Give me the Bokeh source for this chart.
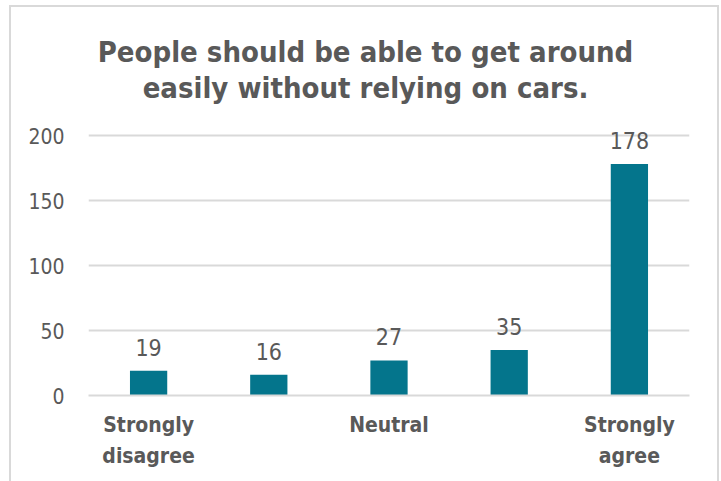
from bokeh.plotting import figure
from bokeh.models import ColumnDataSource, LabelSet, Label, Range1d, FixedTicker
from bokeh.core.properties import value
from bokeh.embed import file_html
from bokeh.resources import INLINE

# Data
categories = ["Strongly disagree", "Disagree", "Neutral", "Agree", "Strongly agree"]
counts = [19, 16, 27, 35, 178]
tick_labels = ["Strongly\ndisagree", "", "Neutral", "", "Strongly\nagree"]
y_ticks = [0, 50, 100, 150, 200]
title_lines = ["People should be able to get around", "easily without relying on cars."]

FONT = "DejaVu Sans Condensed"
TEXT = "#595959"
BAR = "#04758C"
GRID = "#D9D9D9"

xs = list(range(len(categories)))

W, H = 706, 474
PX_PER_UNIT = 1.3
y_top = 200 + 128 / PX_PER_UNIT  # frame extends to top so title fits inside
p = figure(width=W, height=H, x_range=Range1d(-0.5, len(categories) - 0.5), y_range=Range1d(0, y_top),
           output_backend="svg", toolbar_location=None,
           min_border_left=77, min_border_right=28, min_border_top=0, min_border_bottom=86)
p.margin = (7, 0, 0, 11)
p.styles = {"outline": "2px solid #D9D9D9"}
p.outline_line_color = None
p.background_fill_color = "white"
p.border_fill_color = "white"

src = ColumnDataSource(dict(x=xs, cat=categories, val=counts, lab=[str(v) for v in counts]))
p.vbar(x="x", top="val", width=0.31, source=src, fill_color=BAR, line_color=None)

labels = LabelSet(x="x", y="val", text="lab", source=src, text_align="center",
                  text_baseline="alphabetic", y_offset=15, text_font=value(FONT),
                  text_font_size="23px", text_color=TEXT)
p.add_layout(labels)

# axes
p.yaxis.ticker = FixedTicker(ticks=y_ticks)
p.yaxis.axis_line_color = None
p.yaxis.major_tick_line_color = None
p.yaxis.minor_tick_line_color = None
p.yaxis.major_label_standoff = 18
p.yaxis.major_label_text_font = FONT
p.yaxis.major_label_text_font_size = "21px"
p.yaxis.major_label_text_color = TEXT

p.xaxis.ticker = FixedTicker(ticks=xs)
p.xaxis.axis_line_color = GRID
p.xaxis.axis_line_width = 2
p.xaxis.major_tick_line_color = None
p.xaxis.minor_tick_line_color = None
p.xaxis.major_label_overrides = {i: t for i, t in zip(xs, tick_labels)}
p.xaxis.major_label_standoff = 11
p.xaxis.major_label_text_font = FONT
p.xaxis.major_label_text_font_style = "bold"
p.xaxis.major_label_text_font_size = "21px"
p.xaxis.major_label_text_color = TEXT
p.xaxis.major_label_text_line_height = 1.3

p.xgrid.grid_line_color = None
p.ygrid.grid_line_color = GRID
p.ygrid.grid_line_width = 2
p.ygrid.ticker = FixedTicker(ticks=y_ticks)

for i, line in enumerate(title_lines):
    p.add_layout(Label(x=277, y=344 - 36 * i, x_units="screen", y_units="screen",
                       text=line, text_align="center", text_baseline="alphabetic",
                       text_font=FONT, text_font_style="bold", text_font_size="29px",
                       text_color=TEXT))

open("out.html", "w").write(file_html(p, INLINE))
